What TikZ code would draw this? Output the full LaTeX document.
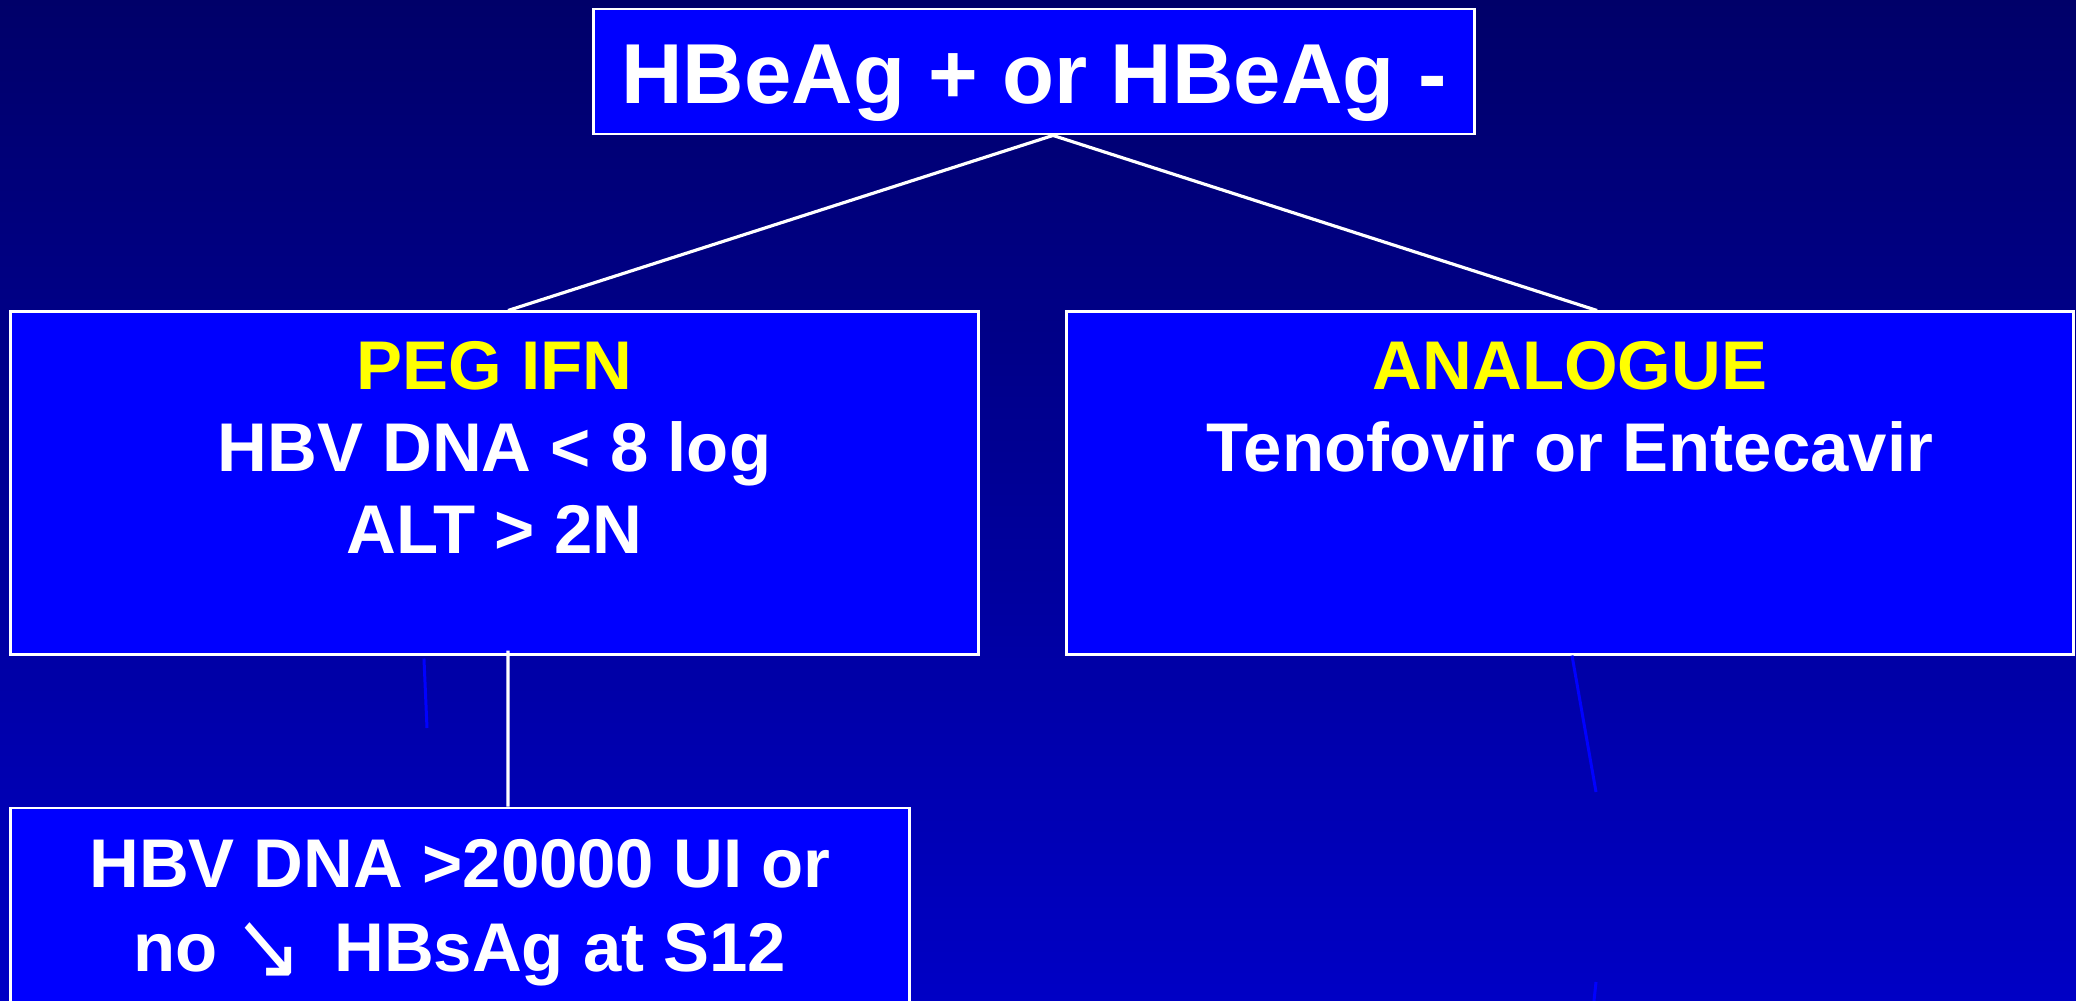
\documentclass[tikz,border=0pt]{standalone}
\usepackage{graphicx}
\usepackage{fontspec}
\setmainfont{Liberation Sans}
\newfontfamily\arrowfont{DejaVu Sans}
\usetikzlibrary{positioning, calc}
\definecolor{slidetop}{RGB}{0, 0, 105}
\definecolor{slidebottom}{RGB}{0, 0, 197}
\definecolor{boxblue}{RGB}{0, 0, 255}
\definecolor{headyellow}{RGB}{255, 255, 0}
\newcommand{\downarrowsym}{\raisebox{-0.07cm}{\scalebox{1.2}[1.38]{\arrowfont\mdseries ↘}}}

\begin{document}
\begin{tikzpicture}[
    x=0.01cm, y=-0.01cm,
    box/.style={draw=white, line width=0.8pt, fill=boxblue, inner sep=0pt},
    headtxt/.style={text=white, inner sep=0pt, font=\fontsize{24.2pt}{29pt}\selectfont\bfseries},
    bodytxt/.style={text=white, inner sep=0pt, align=center, font=\fontsize{19.6pt}{#1}\selectfont\bfseries},
    bodytxt/.default=23.3pt,
    link/.style={draw=white, line width=0.9pt},
    ghost/.style={draw=boxblue, line width=0.85pt}
]
    \useasboundingbox (0,0) rectangle (2076,1000);
    \clip (0,0) rectangle (2076,1000);
    \fill[top color=slidetop, bottom color=slidebottom] (0,0) rectangle (2076,1000);

    \node[box, minimum width=8.80cm, minimum height=1.25cm] (root) at (1034,71.5) {};
    \node[headtxt, anchor=base] (roottxt) at ([yshift=0.32cm]root.south) {HBeAg + or HBeAg -};

    \node[box, minimum width=9.67cm, minimum height=3.42cm] (peg) at (494.5,483) {};
    \node[bodytxt, anchor=north] (pegtxt) at ([yshift=-0.30cm]peg.north) {
        \textcolor{headyellow}{PEG IFN}\\
        HBV DNA < 8 log\\
        ALT > 2N
    };

    \node[box, minimum width=10.06cm, minimum height=3.42cm] (analog) at (1570,483) {};
    \node[bodytxt, anchor=north] (analogtxt) at ([yshift=-0.30cm]analog.north) {
        \textcolor{headyellow}{ANALOGUE}\\
        Tenofovir or Entecavir
    };

    \node[box, minimum width=8.98cm, minimum height=2.52cm] (hbv) at (460,934) {};
    \node[bodytxt=24pt, anchor=north] (hbvtxt) at ([yshift=-0.32cm]hbv.north) {
        HBV DNA >20000 UI or\\
        no\hspace{0.16cm}\downarrowsym\hspace{0.31cm}HBsAg at S12
    };

    \draw[link] ([xshift=0.19cm]root.south) -- ([xshift=0.135cm]peg.north);
    \draw[link] ([xshift=0.19cm]root.south) -- ([xshift=0.27cm]analog.north);
    \draw[link] ([xshift=0.135cm, yshift=0.05cm]peg.south) -- ([xshift=0.48cm]hbv.north);

    \coordinate (pegend) at (427,728);
    \coordinate (analogend) at (1596,792);
    \coordinate (stubtop) at (1596,982);
    \coordinate (stubend) at (1593,1010);
    \draw[ghost] ([xshift=-0.705cm, yshift=-0.03cm]peg.south) -- (pegend);
    \draw[ghost] ([xshift=0.02cm]analog.south) -- (analogend);
    \draw[ghost] (stubtop) -- (stubend);
\end{tikzpicture}
\end{document}
